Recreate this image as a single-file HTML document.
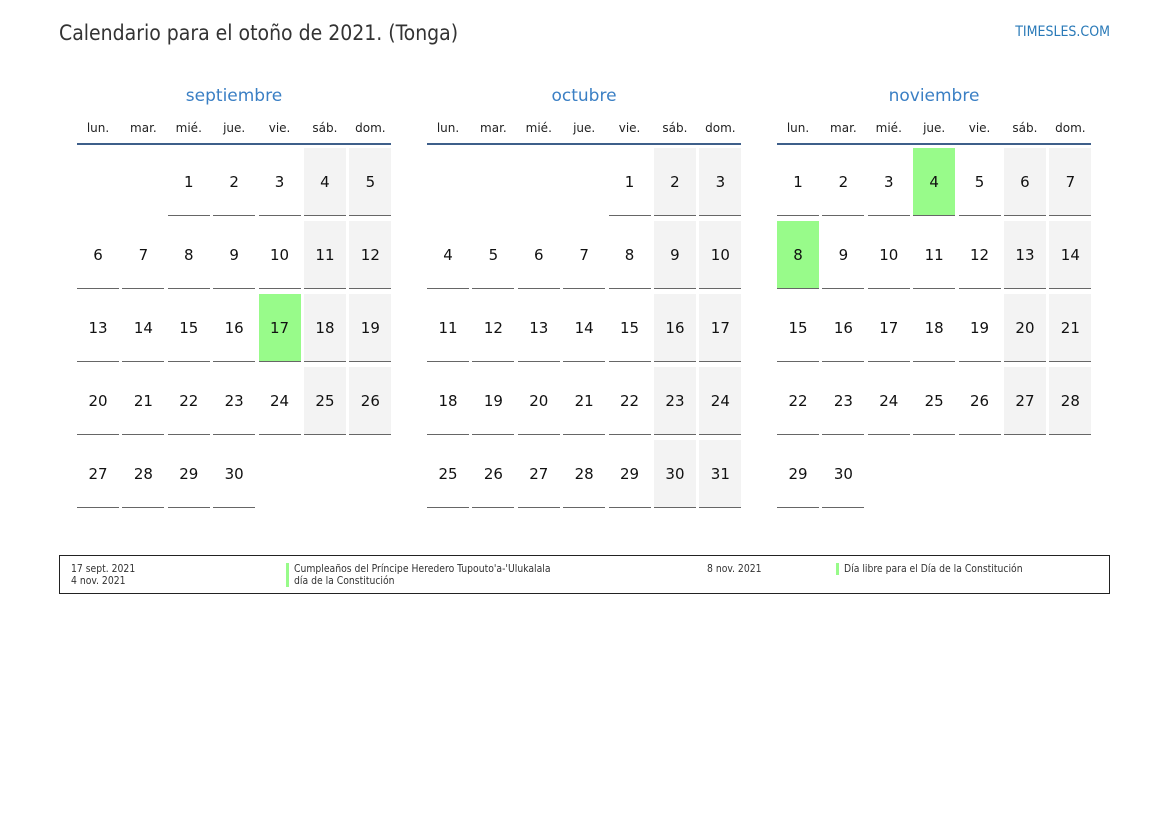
<!DOCTYPE html>
<html><head><meta charset="utf-8"><style>
body{margin:0;width:1169px;height:827px;background:#fff;font-family:"DejaVu Sans","Liberation Sans",sans-serif;position:relative;overflow:hidden}
.t{position:absolute;left:59px;top:21px;font-size:21px;color:#333;font-family:"DejaVu Sans Condensed","DejaVu Sans",sans-serif;font-stretch:condensed}
.ts{position:absolute;right:59px;top:24px;font-size:14px;color:#2a7ab8;font-family:"DejaVu Sans Condensed","DejaVu Sans",sans-serif;font-stretch:condensed}
.m{position:absolute;top:85px;width:314px}
.mt{text-align:center;font-size:17px;color:#3a7fc4;height:22px;line-height:22px}
.dn{display:grid;grid-template-columns:repeat(7,42px);column-gap:3.4px;margin-top:11px;height:27px;border-bottom:2px solid #3e5f8a;box-sizing:border-box}
.dn span{text-align:center;font-size:12px;color:#222;line-height:20px}
.g{display:grid;grid-template-columns:repeat(7,42px);column-gap:3.4px;row-gap:5px;grid-auto-rows:68px;margin-top:3px}
.g div{display:flex;align-items:center;justify-content:center;font-size:15px;color:#111;border-bottom:1.5px solid #666;box-sizing:border-box;padding-top:1px}
.g div.e{border:none}
.g div.w{background:#f3f3f3}
.g div.h{background:#98fb8a}
.f{position:absolute;left:59px;top:555px;width:1049px;height:37px;border:1px solid #222;font-size:10.3px;color:#333;font-family:"DejaVu Sans Condensed","DejaVu Sans",sans-serif;font-stretch:condensed}
.f span{position:absolute;white-space:nowrap}
.b{border-left:3px solid #98fb8a;padding-left:5px}
</style></head><body>
<div class="t">Calendario para el otoño de 2021. (Tonga)</div>
<div class="ts">TIMESLES.COM</div>

<div class="m" style="left:77px">
<div class="mt">septiembre</div>
<div class="dn"><span>lun.</span><span>mar.</span><span>mié.</span><span>jue.</span><span>vie.</span><span>sáb.</span><span>dom.</span></div>
<div class="g">
<div class="e"></div><div class="e"></div><div>1</div><div>2</div><div>3</div><div class="w">4</div><div class="w">5</div>
<div>6</div><div>7</div><div>8</div><div>9</div><div>10</div><div class="w">11</div><div class="w">12</div>
<div>13</div><div>14</div><div>15</div><div>16</div><div class="h">17</div><div class="w">18</div><div class="w">19</div>
<div>20</div><div>21</div><div>22</div><div>23</div><div>24</div><div class="w">25</div><div class="w">26</div>
<div>27</div><div>28</div><div>29</div><div>30</div><div class="e"></div><div class="e"></div><div class="e"></div>
</div></div>

<div class="m" style="left:427px">
<div class="mt">octubre</div>
<div class="dn"><span>lun.</span><span>mar.</span><span>mié.</span><span>jue.</span><span>vie.</span><span>sáb.</span><span>dom.</span></div>
<div class="g">
<div class="e"></div><div class="e"></div><div class="e"></div><div class="e"></div><div>1</div><div class="w">2</div><div class="w">3</div>
<div>4</div><div>5</div><div>6</div><div>7</div><div>8</div><div class="w">9</div><div class="w">10</div>
<div>11</div><div>12</div><div>13</div><div>14</div><div>15</div><div class="w">16</div><div class="w">17</div>
<div>18</div><div>19</div><div>20</div><div>21</div><div>22</div><div class="w">23</div><div class="w">24</div>
<div>25</div><div>26</div><div>27</div><div>28</div><div>29</div><div class="w">30</div><div class="w">31</div>
</div></div>

<div class="m" style="left:777px">
<div class="mt">noviembre</div>
<div class="dn"><span>lun.</span><span>mar.</span><span>mié.</span><span>jue.</span><span>vie.</span><span>sáb.</span><span>dom.</span></div>
<div class="g">
<div>1</div><div>2</div><div>3</div><div class="h">4</div><div>5</div><div class="w">6</div><div class="w">7</div>
<div class="h">8</div><div>9</div><div>10</div><div>11</div><div>12</div><div class="w">13</div><div class="w">14</div>
<div>15</div><div>16</div><div>17</div><div>18</div><div>19</div><div class="w">20</div><div class="w">21</div>
<div>22</div><div>23</div><div>24</div><div>25</div><div>26</div><div class="w">27</div><div class="w">28</div>
<div>29</div><div>30</div><div class="e"></div><div class="e"></div><div class="e"></div><div class="e"></div><div class="e"></div>
</div></div>

<div class="f">
<span style="left:11px;top:7px">17 sept. 2021</span>
<span style="left:11px;top:19px">4 nov. 2021</span>
<span class="b" style="left:226px;top:7px">Cumpleaños del Príncipe Heredero Tupouto'a-'Ulukalala</span>
<span class="b" style="left:226px;top:19px">día de la Constitución</span>
<span style="left:647px;top:7px">8 nov. 2021</span>
<span class="b" style="left:776px;top:7px">Día libre para el Día de la Constitución</span>
</div>
</body></html>
